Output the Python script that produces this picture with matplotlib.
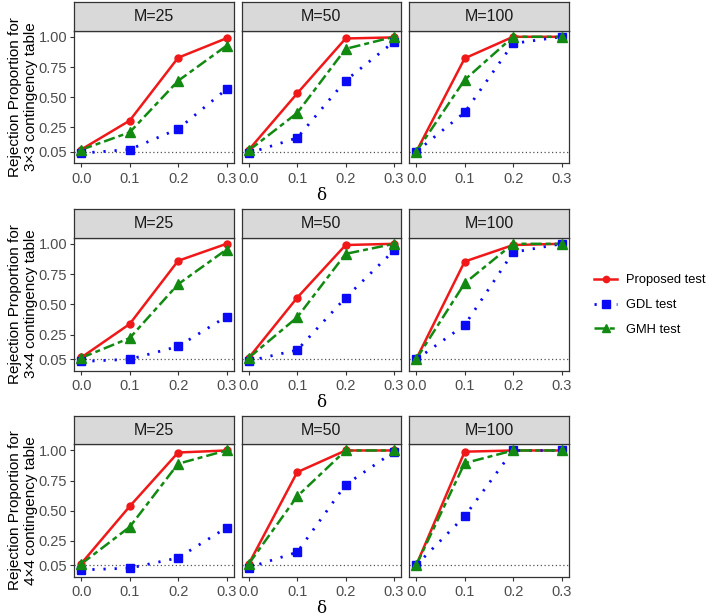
import matplotlib
matplotlib.use('Agg')
import matplotlib.pyplot as plt
from matplotlib.lines import Line2D

plt.rcParams['font.family'] = ['Liberation Sans', 'DejaVu Sans']

# ---------------- data ----------------
delta = [0.0, 0.1, 0.2, 0.3]
sample_sizes = ['M=25', 'M=50', 'M=100']
table_labels = ['3×3', '3×4', '4×4']
y_ticks = [0.05, 0.25, 0.50, 0.75, 1.00]
y_tick_labels = ['0.05', '0.25', '0.50', '0.75', '1.00']
x_ticks = [0.0, 0.1, 0.2, 0.3]
x_tick_labels = ['0.0', '0.1', '0.2', '0.3']
alpha_level = 0.05
test_names = ['Proposed test', 'GDL test', 'GMH test']

# each list: [M=25, M=50, M=100], each over delta
proposed_3x3 = [[0.068, 0.307, 0.827, 0.988],
                [0.065, 0.532, 0.986, 0.995],
                [0.050, 0.822, 1.000, 1.000]]
gdl_3x3 = [[0.038, 0.068, 0.238, 0.567],
           [0.038, 0.164, 0.638, 0.960],
           [0.050, 0.375, 0.945, 1.000]]
gmh_3x3 = [[0.066, 0.210, 0.636, 0.926],
           [0.060, 0.370, 0.900, 1.000],
           [0.050, 0.644, 1.000, 1.000]]

proposed_3x4 = [[0.063, 0.339, 0.860, 1.000],
                [0.060, 0.556, 0.990, 1.000],
                [0.050, 0.854, 0.990, 1.000]]
gdl_3x4 = [[0.030, 0.048, 0.154, 0.400],
           [0.035, 0.124, 0.556, 0.945],
           [0.047, 0.330, 0.930, 1.000]]
gmh_3x4 = [[0.060, 0.223, 0.667, 0.953],
           [0.060, 0.394, 0.917, 1.000],
           [0.050, 0.675, 1.000, 1.000]]

proposed_4x4 = [[0.063, 0.537, 0.983, 1.000],
                [0.060, 0.820, 1.000, 1.000],
                [0.050, 0.990, 1.000, 1.000]]
gdl_4x4 = [[0.010, 0.025, 0.110, 0.360],
           [0.030, 0.157, 0.716, 0.990],
           [0.050, 0.455, 1.000, 1.000]]
gmh_4x4 = [[0.060, 0.366, 0.890, 1.000],
           [0.060, 0.620, 1.000, 1.000],
           [0.050, 0.895, 1.000, 1.000]]

rows = [(proposed_3x3, gdl_3x3, gmh_3x3),
        (proposed_3x4, gdl_3x4, gmh_3x4),
        (proposed_4x4, gdl_4x4, gmh_4x4)]

# ---------------- styles ----------------
RED = '#F01818'
BLUE = '#0A0AF5'
GREEN = '#128A12'
styles = [
    dict(color=RED, lw=1.8, ls='-', marker='o', ms=5.0),
    dict(color=BLUE, lw=2.0, ls=(0, (0.8, 3.2)), marker='s', ms=6.0),
    dict(color=GREEN, lw=1.8, ls=(0, (4.5, 1.6, 2.0, 1.6)), marker='^', ms=6.5),
]

W, H = 709, 616
fig = plt.figure(figsize=(W / 100, H / 100), dpi=100)

col_left = [74, 241.5, 409]
panel_w = 159.8
row_panel_top = [30.5, 237.5, 444.2]
row_panel_bot = [163.3, 370.7, 576.7]
strip_h = 28.3
ylim = (-0.046, 1.052)
xlim = (-0.015, 0.315)
EDGE = '#333333'
TICKC = '#4D4D4D'


def fx(px):
    return px / W


def fy(py):
    return 1 - py / H


for r in range(3):
    prop, gdl, gmh = rows[r]
    for c in range(3):
        left = col_left[c]
        top = row_panel_top[r]
        bot = row_panel_bot[r]
        ax = fig.add_axes([fx(left), fy(bot), fx(panel_w), (bot - top) / H])
        ax.set_xlim(*xlim)
        ax.set_ylim(*ylim)
        ax.axhline(alpha_level, color='#555555', lw=0.9, ls=(0, (1, 2)), zorder=1)
        series = [prop[c], gdl[c], gmh[c]]
        for s, st in zip(series, styles):
            ax.plot(delta, s, color=st['color'], lw=st['lw'], ls=st['ls'], zorder=2,
                    solid_capstyle='butt', dash_capstyle='butt')
        for s, st in zip(series, styles):
            ax.plot(delta, s, ls='none', marker=st['marker'], ms=st['ms'],
                    color=st['color'], mec=st['color'], zorder=3)
        ax.set_xticks(x_ticks)
        ax.set_xticklabels(x_tick_labels)
        ax.tick_params(axis='x', direction='out', length=3, width=0.8, color=EDGE,
                       labelcolor=TICKC, labelsize=10.5, pad=3)
        if c == 0:
            ax.set_yticks(y_ticks)
            ax.set_yticklabels(y_tick_labels)
            ax.tick_params(axis='y', direction='out', length=3, width=0.8, color=EDGE,
                           labelcolor=TICKC, labelsize=10.5, pad=2)
        else:
            ax.set_yticks([])
        for sp in ax.spines.values():
            sp.set_color(EDGE)
            sp.set_linewidth(0.9)
        # strip
        sax = fig.add_axes([fx(left), fy(top), fx(panel_w), strip_h / H])
        sax.set_xticks([])
        sax.set_yticks([])
        sax.set_facecolor('#D9D9D9')
        for sp in sax.spines.values():
            sp.set_color(EDGE)
            sp.set_linewidth(0.9)
        sax.text(0.5, 0.5, sample_sizes[c], ha='center', va='center', fontsize=11.5,
                 color='#1A1A1A', transform=sax.transAxes)
    # y label
    yc = (row_panel_top[r] + row_panel_bot[r]) / 2
    fig.text(fx(23), fy(yc), 'Rejection Proportion for\n' + table_labels[r] + ' contingency table',
             rotation=90, ha='center', va='center', multialignment='center',
             fontsize=11, color='black', linespacing=1.1)
    # x label
    fig.text(fx(col_left[1] + panel_w / 2), fy(row_panel_bot[r] + 32), 'δ',
             ha='center', va='center', fontsize=12, color='black',
             family=['DejaVu Serif'])

handles = [Line2D([], [], color=st['color'], lw=st['lw'], ls=st['ls'], marker=st['marker'],
                  ms=st['ms'] - 0.5) for st in styles]
fig.legend(handles, test_names, loc='center left', bbox_to_anchor=(fx(594), fy(305)),
           frameon=False, fontsize=9.3, handlelength=1.8, handletextpad=0.7,
           labelspacing=1.0, borderaxespad=0, borderpad=0)

fig.savefig('out.png', dpi=100)
